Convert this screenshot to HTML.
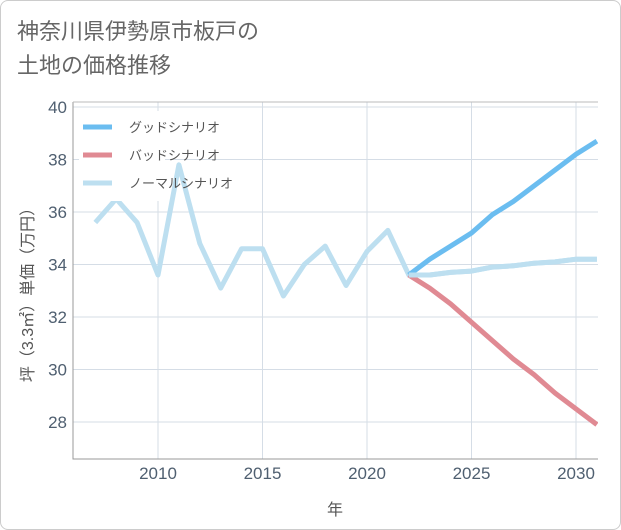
<!DOCTYPE html>
<html><head><meta charset="utf-8">
<style>
body{margin:0;background:#fff;}
.wrap{position:relative;width:619px;height:528px;border:1px solid #ccc;border-radius:8px;overflow:hidden;background:#fff;}
.title{position:absolute;left:16px;top:14px;font:22px "Liberation Sans","Noto Sans CJK JP",sans-serif;color:#666;line-height:34px;}
svg{position:absolute;left:0;top:0;}
text{font-family:"Liberation Sans","Noto Sans CJK JP",sans-serif;}
</style></head><body>
<div class="wrap">
<div class="title">神奈川県伊勢原市板戸の<br>土地の価格推移</div>
<svg width="621" height="530" id="chart"></svg>
</div>
<script>
const yTicks=[28,30,32,34,36,38,40];
const xTicks=[2010,2015,2020,2025,2030];
const normalYears=[2007,2008,2009,2010,2011,2012,2013,2014,2015,2016,2017,2018,2019,2020,2021,2022,2023,2024,2025,2026,2027,2028,2029,2030,2031];
const normalVals=[35.6,36.5,35.6,33.6,37.8,34.8,33.1,34.6,34.6,32.8,34.0,34.7,33.2,34.5,35.3,33.6,33.6,33.7,33.75,33.9,33.95,34.05,34.1,34.2,34.2];
const scenYears=[2022,2023,2024,2025,2026,2027,2028,2029,2030,2031];
const goodVals=[33.6,34.2,34.7,35.2,35.9,36.4,37.0,37.6,38.2,38.7];
const badVals=[33.6,33.1,32.5,31.8,31.1,30.4,29.8,29.1,28.5,27.9];
const legendLabels=["グッドシナリオ","バッドシナリオ","ノーマルシナリオ"];
const colors=["#6bbdf0","#e08a93","#bddff0"];

const L=72,R=597,T=101,B=458;
const xs=v=>157+(v-2010)*20.9;
const ys=v=>106+(40-v)*26.25;
const svg=document.getElementById('chart');
const NS='http://www.w3.org/2000/svg';
function el(tag,attrs,parent){const e=document.createElementNS(NS,tag);for(const k in attrs)e.setAttribute(k,attrs[k]);(parent||svg).appendChild(e);return e;}
const defs=el('clipPath',{id:'clip'});el('rect',{x:L,y:T,width:R-L,height:B-T},defs);
yTicks.forEach(t=>{
 const g=el('line',{x1:L,x2:R,y1:ys(t),y2:ys(t),stroke:'#d5dde6','stroke-width':1});
 
 const tx=el('text',{x:L-6,y:ys(t)+6,'text-anchor':'end','font-size':17,fill:'#4f5f70'});tx.textContent=t;
 
});
xTicks.forEach(t=>{
 const g=el('line',{x1:xs(t),x2:xs(t),y1:T,y2:B,stroke:'#d5dde6','stroke-width':1});
 
 const tx=el('text',{x:xs(t),y:B+20,'text-anchor':'middle','font-size':17,fill:'#4f5f70'});tx.textContent=t;
 
});
const ax=el('path',{d:`M${L},${T}V${B}H${R}`,fill:'none',stroke:'#999','stroke-width':1});

const bt=el('line',{x1:L,x2:R,y1:T,y2:T,stroke:'#bbb','stroke-width':1});

function series(years,vals,color,name){
 const d=years.map((y,i)=>(i?'L':'M')+xs(y).toFixed(1)+','+ys(vals[i]).toFixed(1)).join('');
 const p=el('path',{d,fill:'none',stroke:color,'stroke-width':5,'stroke-linejoin':'round','clip-path':'url(#clip)'});
 
}
series(normalYears,normalVals,colors[2],'normal-scenario-line');
series(scenYears,badVals,colors[1],'bad-scenario-line');
series(scenYears,goodVals,colors[0],'good-scenario-line');
series(scenYears.slice(0,1).concat(normalYears.slice(16)),[33.6].concat(normalVals.slice(16)),colors[2],'normal-scenario-forecast');
const lb=el('rect',{x:78,y:110,width:86,height:90,fill:'#fff'});

legendLabels.forEach((lab,i)=>{
 const y=126+i*28;
 const ln=el('line',{x1:82,x2:111,y1:y,y2:y,stroke:colors[i],'stroke-width':5});
 
 const tx=el('text',{x:128,y:y+5,'font-size':13,fill:'#555'});tx.textContent=lab;
 
});
const xt=el('text',{x:334,y:514,'text-anchor':'middle','font-size':16,fill:'#555'});xt.textContent='年';

const yt=el('text',{x:0,y:0,'text-anchor':'middle','font-size':16,fill:'#555',transform:'translate(32,290) rotate(-90)'});yt.textContent='坪（3.3㎡）単価（万円）';

</script>
</body></html>
